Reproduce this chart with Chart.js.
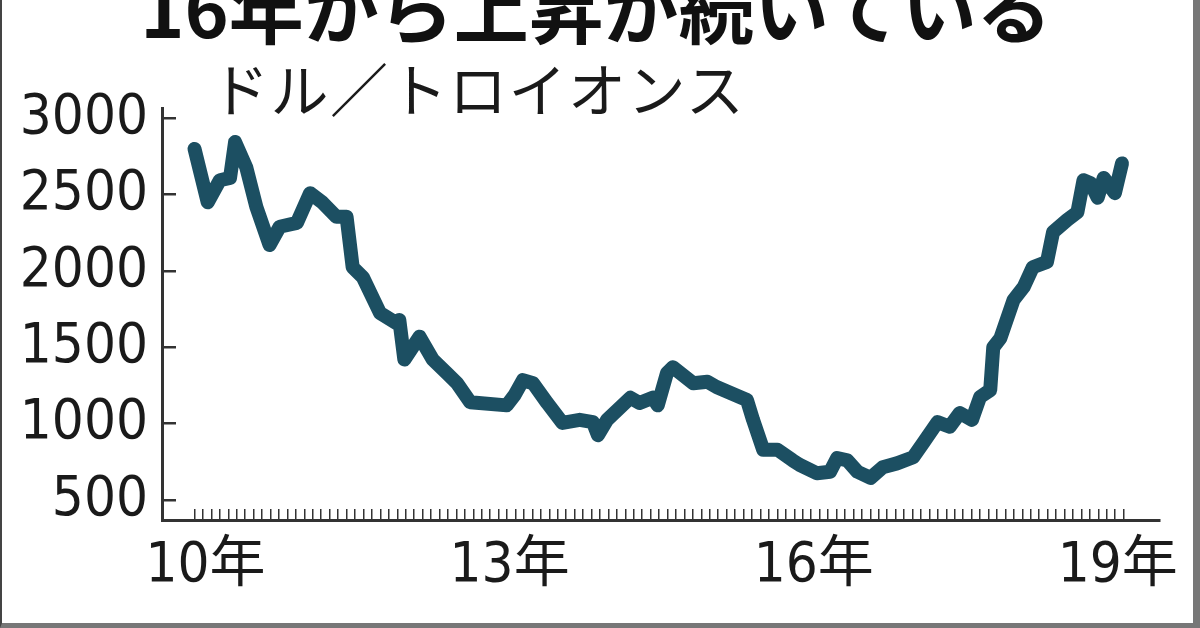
<html>
<head>
    <meta charset="utf-8" />
    <title>16年から上昇が続いている</title>
    <script src="https://cdn.jsdelivr.net/npm/chart.js"></script>
    <style>
        body { margin: 0; background: #fff; }
        #wrap { position: relative; width: 1200px; height: 628px; overflow: hidden; }
        #title {
            position: absolute; left: 0; width: 1192px; top: -32px;
            text-align: center; font: bold 75px/1 'Noto Sans CJK JP', sans-serif; color: #111;
        }
        #unit {
            position: absolute; left: 211px; top: 58px; letter-spacing: 1.5px;
            font: 400 58px/1 'Noto Sans CJK JP', sans-serif; color: #1a1a1a;
        }
        #frame {
            position: absolute; left: 0; top: 0; width: 1200px; height: 628px; box-sizing: border-box;
            border-left: 2px solid #444; border-right: 7px solid #777; border-bottom: 5px solid #777;
            pointer-events: none;
        }
    </style>
</head>
<body>
<div id="wrap">
    <canvas id="gold" width="1200" height="628"></canvas>
    <div id="title">16年から上昇が続いている</div>
    <div id="unit">ドル／トロイオンス</div>
    <div id="frame"></div>
</div>

<script>
    // time in decimal years, price in dollars per troy ounce
    const years = [
        2010.00, 2010.13, 2010.25, 2010.35, 2010.40, 2010.51, 2010.61, 2010.74, 2010.84, 2011.01,
        2011.14, 2011.26, 2011.40, 2011.50, 2011.56, 2011.66, 2011.83, 2011.99, 2012.02, 2012.07,
        2012.22, 2012.35, 2012.49, 2012.59, 2012.72, 2013.08, 2013.16, 2013.24, 2013.34, 2013.48,
        2013.63, 2013.80, 2013.93, 2013.98, 2014.07, 2014.30, 2014.39, 2014.52, 2014.57, 2014.66,
        2014.72, 2014.92, 2015.06, 2015.15, 2015.38, 2015.45, 2015.51, 2015.61, 2015.75, 2015.90,
        2015.97, 2016.14, 2016.27, 2016.34, 2016.44, 2016.54, 2016.67, 2016.79, 2016.93, 2017.09,
        2017.19, 2017.33, 2017.45, 2017.55, 2017.67, 2017.75, 2017.85, 2017.88, 2017.95, 2018.08,
        2018.18, 2018.27, 2018.41, 2018.47, 2018.61, 2018.71, 2018.77, 2018.84, 2018.91, 2018.97,
        2019.08, 2019.15
    ];
    const prices = [
        2800, 2450, 2595, 2610, 2845, 2680, 2420, 2170, 2290, 2315,
        2510, 2450, 2355, 2355, 2025, 1960, 1725, 1660, 1680, 1420,
        1570, 1420, 1330, 1265, 1140, 1120, 1190, 1285, 1265, 1135,
        1005, 1025, 1010, 925, 1025, 1170, 1135, 1170, 1120, 1330,
        1370, 1265, 1275, 1240, 1175, 1155, 1025, 830, 830, 760,
        730, 675, 685, 775, 760, 685, 645, 715, 740, 780,
        875, 1010, 980, 1070, 1025, 1175, 1220, 1500, 1560, 1810,
        1895, 2025, 2060, 2255, 2335, 2385, 2595, 2575, 2480, 2610,
        2510, 2705
    ];
    const yTicks = [500, 1000, 1500, 2000, 2500, 3000];
    const xLabelYears = [2010, 2013, 2016, 2019];
    const xLabels = ['10年', '13年', '16年', '19年'];
    const firstMonth = 2010;      // monthly tick marks from Jan 2010
    const monthCount = 111;       // to Mar 2019

    const labelFont = "'DejaVu Sans Condensed', 'Noto Sans CJK JP', sans-serif";

    const ctx = document.getElementById('gold');

    new Chart(ctx, {
        type: 'line',
        data: {
            datasets: [{
                data: years.map((t, i) => ({x: t, y: prices[i]})),
                borderColor: '#1c4f62',
                borderWidth: 14,
                borderJoinStyle: 'round',
                borderCapStyle: 'round',
                pointRadius: 0,
                tension: 0,
            }]
        },
        options: {
            responsive: false,
            animation: false,
            events: [],
            layout: { padding: { top: 108, right: 40, left: 0, bottom: 0 } },
            plugins: { legend: { display: false }, tooltip: { enabled: false } },
            scales: {
                x: {
                    type: 'linear',
                    min: 2009.679,
                    max: 2019.525,
                    afterBuildTicks: s => {
                        const t = [];
                        for (let i = 0; i < monthCount; i++) t.push({ value: firstMonth + i / 12 });
                        s.ticks = t;
                    },
                    afterFit: s => { s.height = 108; },
                    border: { color: '#333', width: 3 },
                    grid: { drawOnChartArea: false, tickLength: -11, color: '#333', lineWidth: 1.5 },
                    ticks: {
                        autoSkip: false,
                        maxRotation: 0,
                        padding: 29,
                        labelOffset: 11,
                        color: '#1a1a1a',
                        font: { family: labelFont, size: 56, lineHeight: 1 },
                        callback: (v) => {
                            const k = xLabelYears.findIndex(y => Math.abs(y - v) < 0.01);
                            return k >= 0 ? xLabels[k] : '';
                        }
                    }
                },
                y: {
                    min: 369,
                    max: 3068,
                    afterBuildTicks: s => { s.ticks = yTicks.map(v => ({ value: v })); },
                    afterFit: s => { s.width = 162; },
                    border: { color: '#333', width: 3 },
                    grid: { drawOnChartArea: false, tickLength: -14, color: '#333', lineWidth: 2.5 },
                    ticks: {
                        padding: 28,
                        color: '#1a1a1a',
                        font: { family: labelFont, size: 56, lineHeight: 1 },
                        callback: v => String(v)
                    }
                }
            }
        }
    });
</script>
</body>
</html>
